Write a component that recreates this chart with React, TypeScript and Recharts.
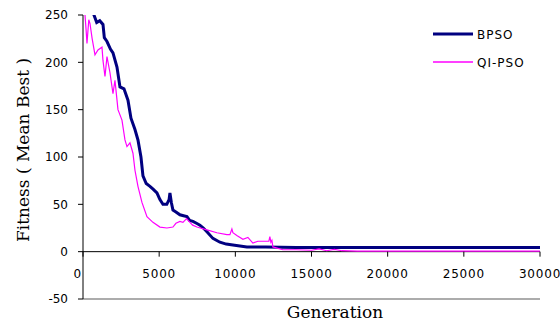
import React from "react";
import { LineChart, Line, XAxis, YAxis, CartesianGrid } from "recharts";

const xTicks = [0, 5000, 10000, 15000, 20000, 25000, 30000];
const yTicks = [-50, 0, 50, 100, 150, 200, 250];

const bpsoGen = [
  0, 300, 720, 900, 1100, 1312, 1400, 1575, 1800, 1968, 2230, 2427, 2690, 2952,
  3149, 3411, 3608, 3805, 3936, 4150, 4395, 4600, 4854, 5051, 5248, 5500, 5650,
  5707, 5800, 5904, 6100, 6363, 6600, 6822, 7000, 7216, 7450, 7675, 7900, 8134,
  8528, 8987, 9400, 9840, 10300, 10758, 12000, 14000, 30000,
];
const bpsoFit = [
  290, 268, 250, 242, 244, 240, 226, 222, 214, 210, 195, 174, 172, 160, 141,
  129, 118, 100, 80, 72, 69, 66, 62, 55, 50, 50, 55, 62, 52, 44, 42, 39, 38, 37,
  33, 32, 30, 28, 25, 21, 14, 10, 8, 7, 6, 5, 5, 4.5, 4.5,
];

const qiGen = [
  0, 131, 200, 262, 380, 459, 600, 787, 984, 1246, 1312, 1443, 1574, 1771, 1968,
  2099, 2296, 2558, 2755, 2886, 3083, 3280, 3411, 3608, 3870, 4198, 4592, 5051,
  5510, 5904, 6100, 6363, 6560, 6800, 7019, 7200, 7478, 8134, 8790, 9446, 9643,
  9774, 9840, 10100, 10496, 10824, 11152, 11480, 12200, 12267, 12333, 12400,
  12464, 13120, 14000, 15000, 15500, 16000, 16500, 17000, 18000, 30000,
];
const qiFit = [
  280, 250, 235, 220, 245, 241, 225, 208, 213, 216, 202, 185, 206, 189, 167,
  181, 150, 139, 118, 111, 115, 104, 86, 69, 52, 37, 31, 26, 25, 26, 30, 32, 31,
  35, 31, 28, 26, 23, 20, 18, 18, 24, 20, 17, 13, 15, 9, 11, 11, 16, 10, 12, 5,
  2, 2, 1.5, 3, 1, 2.5, 1, 0.5, 0.5,
];

const bpso = bpsoGen.map((g, i) => ({ gen: g, fit: bpsoFit[i] }));
const qipso = qiGen.map((g, i) => ({ gen: g, fit: qiFit[i] }));

const legendItems = [
  { name: "BPSO", color: "#000080", w: 3 },
  { name: "QI-PSO", color: "#ff00ff", w: 1.5 },
];

const W = 560;
const H = 324;
const PLOT_TOP = 15;
const PLOT_LEFT = 83;
const RIGHT_MARGIN = 20;
const X_AXIS_H = 25;
const PLOT_BOTTOM = H - X_AXIS_H;
const PLOT_H = PLOT_BOTTOM - PLOT_TOP;
// x axis crosses at fitness 0
const ZERO_Y = PLOT_TOP + (PLOT_H * 250) / 300;

const sans = "'DejaVu Sans', Arial, sans-serif";
const serif = "'DejaVu Serif', 'Liberation Serif', serif";

function XTick(props: any) {
  const { x, payload } = props;
  const v = payload.value;
  return (
    <g>
      <path d={`M${x},${ZERO_Y}V${ZERO_Y + 5}`} stroke="#000" fill="none" />
      <text
        x={v === 0 ? x - 1 : x}
        y={ZERO_Y + 26}
        textAnchor={v === 0 ? "end" : "middle"}
        fontFamily={sans}
        fontSize={12}
        letterSpacing={0.8}
        fill="#000"
      >
        {v}
      </text>
    </g>
  );
}

export default function App() {
  return (
    <div style={{ position: "absolute", left: 0, top: 0, width: W, height: H, background: "#fff" }}>
      <LineChart
        width={W}
        height={H}
        data={bpso}
        margin={{ top: PLOT_TOP, right: RIGHT_MARGIN, bottom: 0, left: 0 }}
      >
        {/* black x axis line at zero */}
        <CartesianGrid
          vertical={false}
          horizontalPoints={[ZERO_Y]}
          stroke="#000"
          strokeOpacity={1}
        />
        <XAxis
          type="number"
          dataKey="gen"
          domain={[0, 30000]}
          ticks={xTicks}
          height={X_AXIS_H}
          axisLine={{ stroke: "#909090", strokeWidth: 1.5 }}
          tickLine={false}
          tick={<XTick />}
          interval={0}
          allowDataOverflow
        />
        {/* gray frame: top and right */}
        <XAxis
          xAxisId="top"
          orientation="top"
          type="number"
          dataKey="gen"
          domain={[0, 30000]}
          height={0}
          tick={false}
          tickLine={false}
          axisLine={{ stroke: "#a0a0a0", strokeWidth: 1.5 }}
        />
        <YAxis
          type="number"
          domain={[-50, 250]}
          ticks={yTicks}
          width={PLOT_LEFT}
          allowDataOverflow
          axisLine={{ stroke: "#000" }}
          tickLine={{ stroke: "#000" }}
          tickSize={5}
          tickMargin={10}
          interval={0}
          tick={{ fontFamily: sans, fontSize: 12, fill: "#000" }}
        />
        <YAxis
          yAxisId="right"
          orientation="right"
          type="number"
          domain={[-50, 250]}
          width={0}
          tick={false}
          tickLine={false}
          axisLine={{ stroke: "#a0a0a0", strokeWidth: 1.5 }}
        />
        <Line
          data={bpso}
          dataKey="fit"
          name="BPSO"
          stroke="#000080"
          strokeWidth={3}
          dot={false}
          isAnimationActive={false}
        />
        <Line
          data={qipso}
          dataKey="fit"
          name="QI-PSO"
          stroke="#ff00ff"
          strokeWidth={1.2}
          dot={false}
          isAnimationActive={false}
        />
        {legendItems.map((it, i) => (
          <g key={it.name}>
            <line x1={433} x2={473} y1={34 + i * 28} y2={34 + i * 28} stroke={it.color} strokeWidth={it.w} />
            <text x={477} y={39 + i * 28} fontFamily={sans} fontSize={12} letterSpacing={1} fill="#000">
              {it.name}
            </text>
          </g>
        ))}
        <text x={335} y={318} textAnchor="middle" fontFamily={serif} fontSize={17} fill="#000">
          Generation
        </text>
        <text
          transform="translate(29,150) rotate(-90)"
          textAnchor="middle"
          fontFamily={serif}
          fontSize={17}
          fill="#000"
        >
          Fitness ( Mean Best )
        </text>
      </LineChart>
    </div>
  );
}
